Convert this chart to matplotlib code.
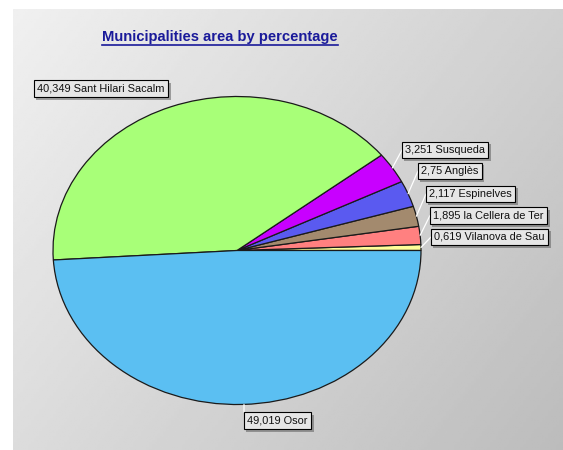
import numpy as np
import matplotlib
matplotlib.use("Agg")
from matplotlib import pyplot as plt
from matplotlib import patheffects as pe

# slice data, counter-clockwise from 3 o'clock
names = ["Vilanova de Sau", "la Cellera de Ter", "Espinelves", "Anglès",
         "Susqueda", "Sant Hilari Sacalm", "Osor"]
values = [0.619, 1.895, 2.117, 2.75, 3.251, 40.349, 49.019]
colors = ["#FFFF99", "#FF8080", "#A38A6E", "#5A5AF0", "#C800FF", "#A8FF78", "#5BBFF2"]

# label box left edge / centre y, in pixels of the 563x450 image
label_pos = [(434, 237), (433, 215.5), (429, 194), (421, 171),
             (405, 150), (37, 88.5), (247, 420.5)]

W, H = 563, 450
fig = plt.figure(figsize=(W / 100, H / 100), dpi=100)
fig.patch.set_facecolor("white")

# gradient panel behind everything
bg = fig.add_axes([13 / W, 0, (W - 13) / W, (H - 9) / H])
u, v = np.meshgrid(np.linspace(0, 1, 200), np.linspace(0, 1, 200))
grad = 240 - 32 * u - 20 * v
bg.imshow(grad, cmap="gray", vmin=0, vmax=255, aspect="auto", extent=[0, 1, 0, 1], origin="upper")
bg.set_axis_off()

# pie axes stretched into the ellipse
cx, cy, rx, ry = 237, 250.5, 184, 154
ax = fig.add_axes([(cx - rx) / W, 1 - (cy + ry) / H, 2 * rx / W, 2 * ry / H])
wedges, _ = ax.pie(values, colors=colors, startangle=0, counterclock=True,
                   wedgeprops=dict(edgecolor="#1a1a1a", linewidth=0.9))
ax.set_aspect("auto")
ax.set_xlim(-1, 1)
ax.set_ylim(-1, 1)
ax.set_axis_off()

total = sum(values)
start = 0.0
for i, (n, val) in enumerate(zip(names, values)):
    ang = np.deg2rad(start + 360 * val / total / 2)
    start += 360 * val / total
    txt = str(val).replace(".", ",") + " " + n
    lx, ly = label_pos[i]
    ex, ey = np.cos(ang), np.sin(ang)
    if n == "Osor":
        ex, ey = (lx - 3 - cx) / rx, -np.sqrt(1 - ((lx - 3 - cx) / rx) ** 2)
        tx, ty = (lx - 3) / W, 1 - (ly - 8.5) / H
    elif n == "Sant Hilari Sacalm":
        tx, ty = None, None
    else:
        tx, ty = (lx - 3) / W, 1 - ly / H
    if tx is not None:
        ax.annotate("", xy=(ex, ey), xycoords="data", xytext=(tx, ty),
                    textcoords="figure fraction",
                    arrowprops=dict(arrowstyle="-", color="white", lw=0.9,
                                    shrinkA=0, shrinkB=0))
    t = fig.text(lx / W, 1 - ly / H, txt, ha="left", va="center", fontsize=7.9,
                 family="Liberation Sans", color="#111111",
                 bbox=dict(boxstyle="square,pad=0.3", facecolor="#e6e6e6",
                           edgecolor="black", linewidth=0.8))
    t.get_bbox_patch().set_path_effects([
        pe.withSimplePatchShadow(offset=(2, -2), shadow_rgbFace="#555555", alpha=0.5)])

title = fig.text(220 / W, 1 - 37 / H, "Municipalities area by percentage", ha="center",
                 va="center", fontsize=10.6, fontweight="bold", family="Liberation Sans",
                 color="#1a1a9a")
fig.canvas.draw()
bb = title.get_window_extent()
fig.add_artist(plt.Line2D([bb.x0 / W, bb.x1 / W], [(bb.y0 - 1) / H] * 2,
                          color="#1a1a9a", lw=1.2, transform=fig.transFigure))

fig.savefig("out.png", dpi=100)
